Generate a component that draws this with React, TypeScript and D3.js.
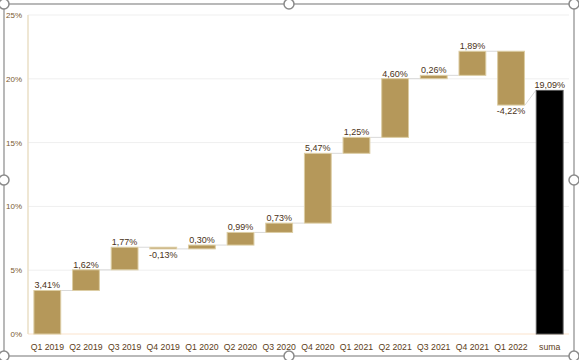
import React from "react";
import * as d3 from "d3";

const categories = ["Q1 2019","Q2 2019","Q3 2019","Q4 2019","Q1 2020","Q2 2020","Q3 2020","Q4 2020","Q1 2021","Q2 2021","Q3 2021","Q4 2021","Q1 2022","suma"];
const changes = [3.41, 1.62, 1.77, -0.13, 0.30, 0.99, 0.73, 5.47, 1.25, 4.60, 0.26, 1.89, -4.22];
const total = 19.09;
const yTicks = [0, 5, 10, 15, 20, 25];

const W = 579, H = 360;
const fmt = (v: number) => v.toFixed(2).replace(".", ",") + "%";

export default function App() {
  const x = d3.scaleBand<string>().domain(categories).range([28, 569]).paddingInner(0.28).paddingOuter(0.14);
  const y = d3.scaleLinear().domain([0, 25]).range([334, 15]);
  const bw = x.bandwidth();

  let acc = 0;
  const bars = changes.map((c, i) => {
    const start = acc;
    acc += c;
    return { cat: categories[i], start, end: acc, v: c, total: false };
  });
  bars.push({ cat: "suma", start: 0, end: total, v: total, total: true });

  const handles = [[4,4],[289,4],[574,4],[4,180],[574,180],[4,356],[289,356],[574,356]];
  const font = "'Liberation Sans', Arial, sans-serif";

  return (
    <svg width={W} height={H} style={{ position: "absolute", left: 0, top: 0 }} fontFamily={font}>
      <rect x={0} y={0} width={W} height={H} fill="#fff" />
      <rect x={4} y={4} width={570} height={352} fill="#fff" stroke="#8a8a8a" strokeWidth={1.2} />
      {yTicks.filter(t => t > 0).map(t => (
        <line key={t} x1={28} x2={569} y1={y(t)} y2={y(t)} stroke="#efefef" strokeWidth={1} />
      ))}
      <line x1={28} x2={569} y1={y(0)} y2={y(0)} stroke="#fbe3cc" strokeWidth={1} />
      <line x1={28} x2={28} y1={y(25)} y2={y(0)} stroke="#eadfc6" strokeWidth={1.5} />
      {yTicks.map(t => (
        <text key={t} x={22} y={y(t) + 3} textAnchor="end" fontSize={8} fill="#7a5a30">{t}%</text>
      ))}
      {bars.slice(0, -1).map((b, i) => {
        const nb = bars[i + 1];
        const x1 = (x(b.cat) as number) + bw;
        const x2 = x(nb.cat) as number;
        const y2 = nb.total ? y(nb.end) : y(b.end);
        return <line key={"c" + i} x1={x1} x2={x2} y1={y(b.end)} y2={y2} stroke="#d9d9d9" strokeWidth={1} />;
      })}
      {bars.map(b => {
        const top = y(Math.max(b.start, b.end));
        const bot = y(Math.min(b.start, b.end));
        const bx = x(b.cat) as number;
        return (
          <rect key={b.cat} x={bx + 0.5} y={top} width={bw - 1} height={Math.max(bot - top, 1)}
            fill={b.total ? "#000" : "#b5985a"} stroke={b.total ? "#555" : "#dccda4"} strokeWidth={1} />
        );
      })}
      {bars.map(b => {
        const cx = (x(b.cat) as number) + bw / 2;
        const neg = b.v < 0;
        const ly = neg ? y(b.end) + 9 : y(b.end) - 2;
        return (
          <text key={"l" + b.cat} x={cx} y={ly} textAnchor="middle" fontSize={9} fill="#4a3217">{fmt(b.v)}</text>
        );
      })}
      {categories.map(c => (
        <text key={"x" + c} x={(x(c) as number) + bw / 2} y={350} textAnchor="middle" fontSize={8.7} fill="#5c3d17">{c}</text>
      ))}
      {handles.map(([hx, hy], i) => (
        <circle key={"h" + i} cx={hx} cy={hy} r={5} fill="#fff" stroke="#8a8a8a" strokeWidth={1.5} />
      ))}
    </svg>
  );
}
